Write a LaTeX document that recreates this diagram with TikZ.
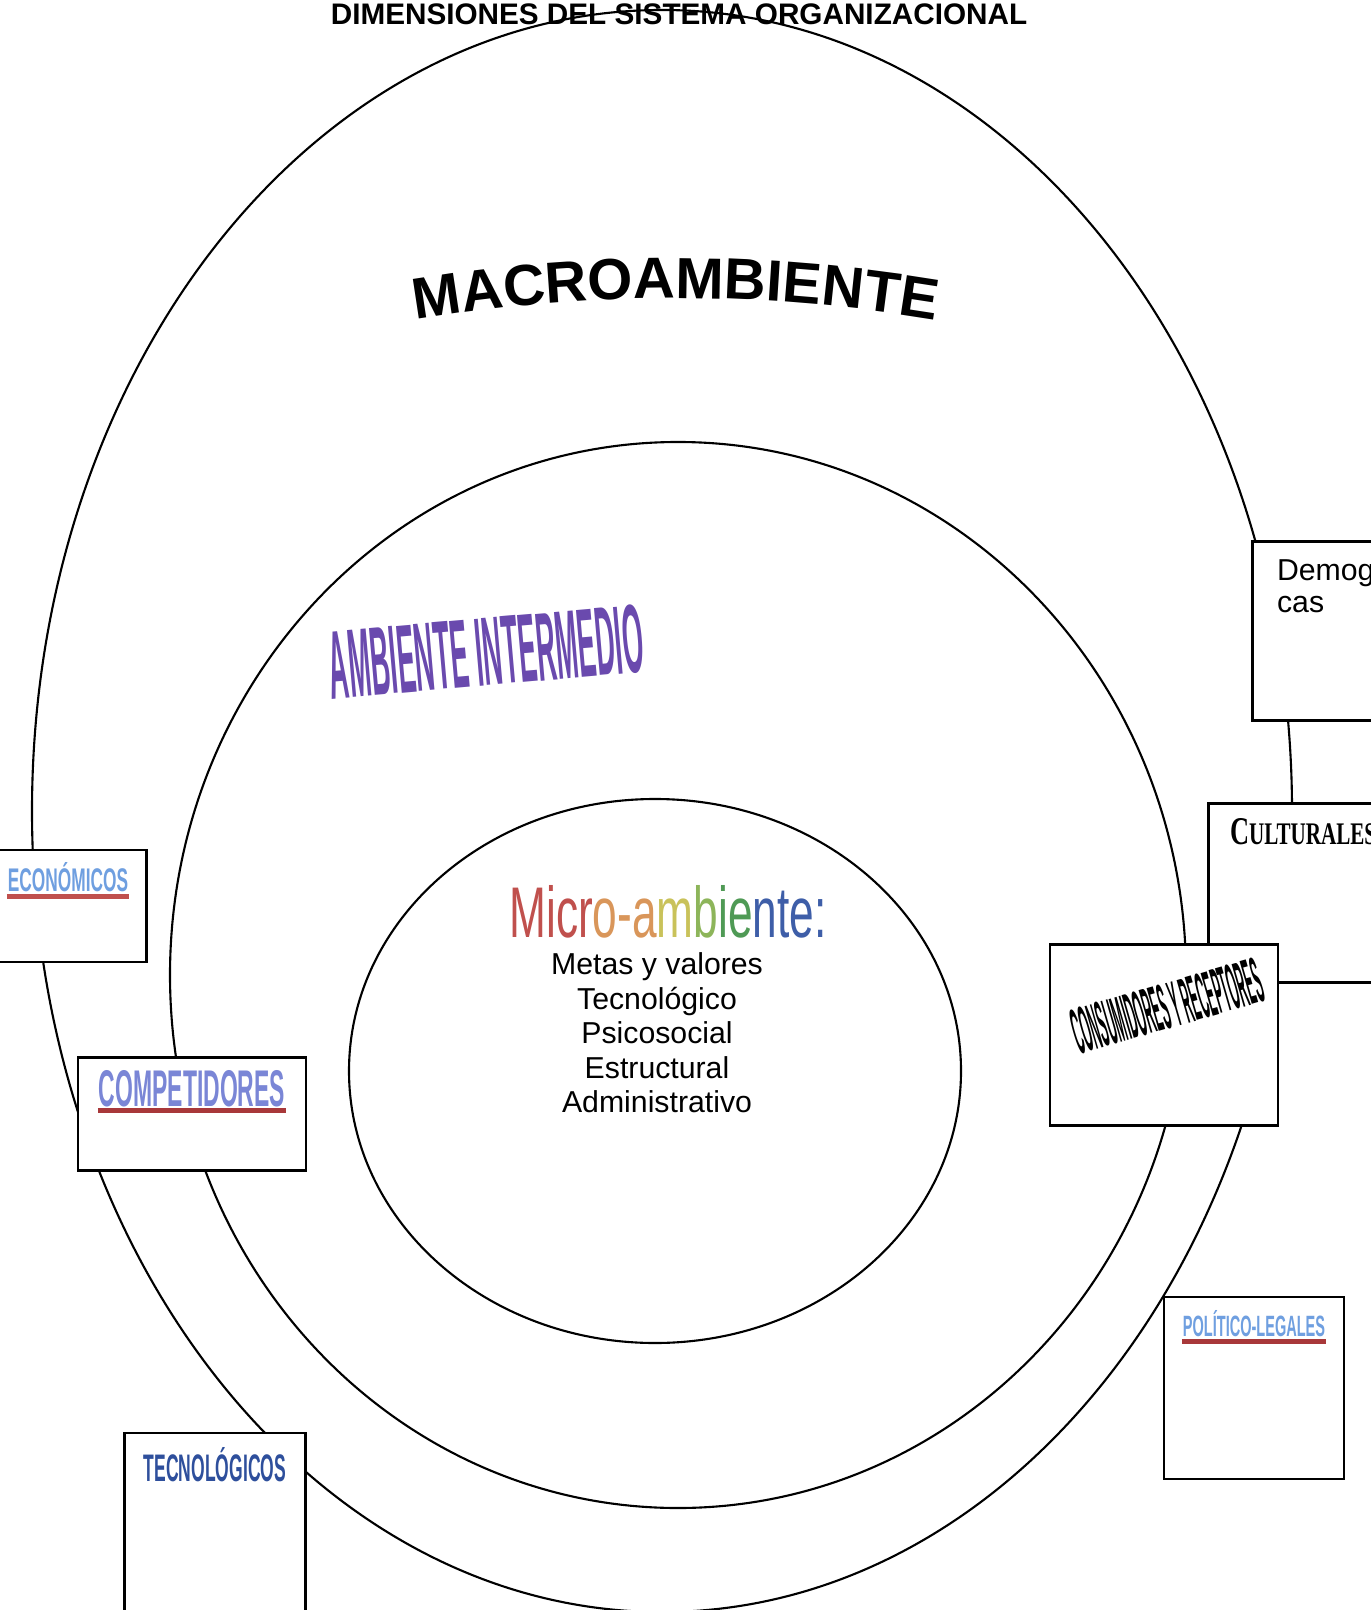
\documentclass[tikz,border=0pt]{standalone}
\usepackage{fontspec}
\setmainfont{Liberation Sans}
\newfontfamily\romanbold{Liberation Serif}
\usetikzlibrary{positioning,decorations.text}

\definecolor{rojo}{HTML}{C0504D}
\definecolor{naranja}{HTML}{D9965A}
\definecolor{amarillo}{HTML}{C9C25A}
\definecolor{verdeclaro}{HTML}{8DB55A}
\definecolor{verde}{HTML}{4F9A55}
\definecolor{azul}{HTML}{3E5EA8}
\definecolor{celeste}{HTML}{6F9FE0}
\definecolor{lila}{HTML}{7A86D6}
\definecolor{morado}{HTML}{6A4AAE}
\definecolor{azuloscuro}{HTML}{2E4F9C}
\definecolor{granate}{HTML}{A8383A}

\newcommand{\wordart}[4]{\resizebox{#1}{#2}{\bfseries\textcolor{#3}{#4}}}

\begin{document}
\begin{tikzpicture}[x=0.01cm,y=-0.01cm,line width=0.6pt]

      \useasboundingbox (0,0) rectangle (1371,1610);

      \node[font=\bfseries,inner sep=0pt] (titulo) at (679,14)
        {\resizebox{6.96cm}{!}{DIMENSIONES DEL SISTEMA ORGANIZACIONAL}};

      \draw (662,811) ellipse [x radius=630, y radius=801];
      \draw (678,975) ellipse [x radius=508, y radius=533];
      \draw (655,1071) ellipse [x radius=306, y radius=272];

      \path[decorate,decoration={text along path,text align=center,
          text={|\fontsize{16.5}{18}\selectfont\bfseries|MACROAMBIENTE}}]
        (416,320) .. controls (590,291) and (760,291) .. (935,320);

      \begin{scope}[every node/.style={draw,fill=white,inner sep=0pt,line width=0.7pt}]
        \node[minimum width=1.57cm,minimum height=1.12cm] (economicos)    at (68,906)     {};
        \node[minimum width=2.28cm,minimum height=1.13cm] (competidores)  at (192,1114)   {};
        \node[minimum width=1.81cm,minimum height=1.92cm] (tecnologicos)  at (215,1529)   {};
        \node[minimum width=1.47cm,minimum height=1.79cm] (demograficas)  at (1326,631)   {};
        \node[minimum width=1.91cm,minimum height=1.79cm] (culturales)    at (1304,893)   {};
        \node[minimum width=2.28cm,minimum height=1.81cm] (consumidores)  at (1164,1035)  {};
        \node[minimum width=1.80cm,minimum height=1.82cm] (politicos)     at (1254,1388)  {};
      \end{scope}

      \begin{scope}[every node/.style={inner sep=0pt,anchor=north}]
        \node[below=0.13cm of economicos.north]   (t1) {\wordart{1.20cm}{0.29cm}{celeste}{ECONÓMICOS}};
        \node[below=0.13cm of competidores.north] (t2) {\wordart{1.86cm}{0.36cm}{lila}{COMPETIDORES}};
        \node[below=0.15cm of tecnologicos.north] (t3) {\wordart{1.42cm}{0.34cm}{azuloscuro}{TECNOLÓGICOS}};
        \node[below=0.14cm of politicos.north]    (t4) {\wordart{1.42cm}{0.26cm}{celeste}{POLÍTICO-LEGALES}};
      \end{scope}

      \begin{scope}[line width=1.4pt]
        \draw[rojo]    ([yshift=-0.03cm]t1.south west) -- ([yshift=-0.03cm]t1.south east);
        \draw[granate] ([yshift=-0.03cm]t2.south west) -- ([yshift=-0.03cm]t2.south east);
        \draw[granate] ([yshift=-0.03cm]t4.south west) -- ([yshift=-0.03cm]t4.south east);
      \end{scope}

      \node[inner sep=0pt,rotate=16] (t5) at (1167,1006)
        {\resizebox{1.95cm}{0.45cm}{\bfseries CONSUMIDORES Y RECEPTORES}};

      \node[inner sep=0pt,anchor=north west,align=left,font=\fontsize{8.6}{9.1}\selectfont]
        (t6) at (1276,557) {Demográfi\\cas};

      \node[inner sep=0pt,anchor=west] (t7) at (1229,832)
        {\resizebox{1.46cm}{0.26cm}{\romanbold\bfseries C\fontsize{8}{9}\selectfont ULTURALES}};

      \node[inner sep=0pt,rotate=5] (intermedio) at (486,652)
        {\wordart{3.15cm}{0.68cm}{morado}{AMBIENTE INTERMEDIO}};

      \node[inner sep=0pt] (micro) at (668,912)
        {\resizebox{3.17cm}{0.52cm}{\textcolor{rojo}{Micr}\textcolor{naranja}{o-a}\textcolor{amarillo}{m}\textcolor{verdeclaro}{b}\textcolor{verde}{ie}\textcolor{azul}{nte:}}};

      \node[align=center,inner sep=0pt,font=\fontsize{8.6}{9.8}\selectfont] (lista) at (657,1033)
        {Metas y valores\\Tecnológico\\Psicosocial\\Estructural\\Administrativo};

\end{tikzpicture}
\end{document}
